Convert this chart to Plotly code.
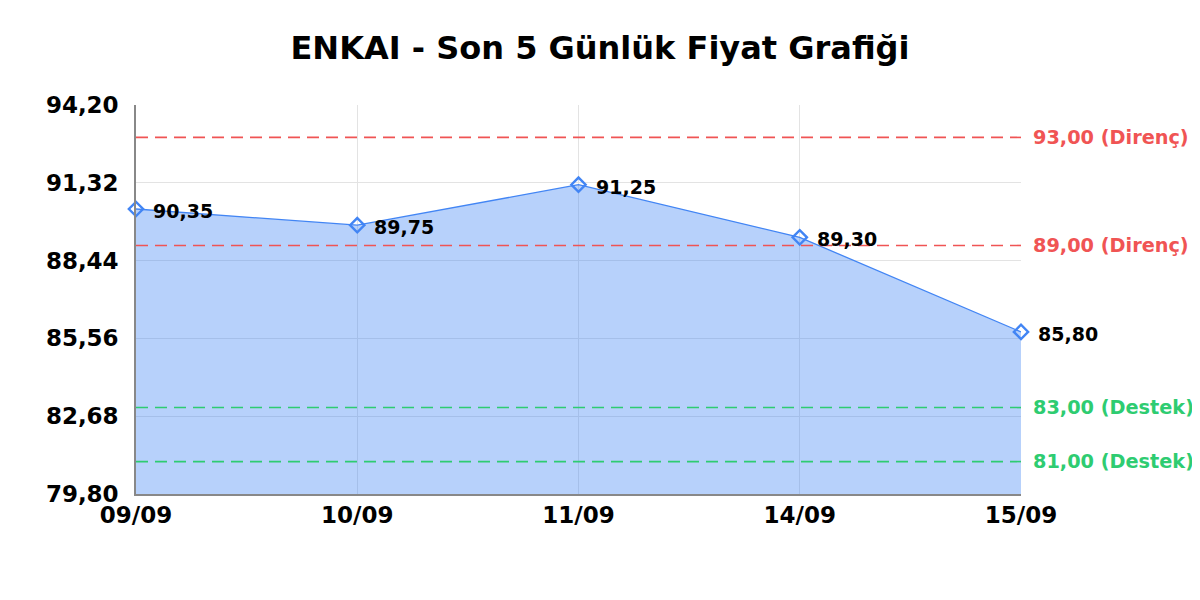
import plotly.graph_objects as go

# veri
dates = ['09/09', '10/09', '11/09', '14/09', '15/09']
prices = [90.35, 89.75, 91.25, 89.30, 85.80]
price_labels = ['90,35', '89,75', '91,25', '89,30', '85,80']

resistance_levels = [93.00, 89.00]
resistance_labels = ['93,00 (Direnç)', '89,00 (Direnç)']
support_levels = [83.00, 81.00]
support_labels = ['83,00 (Destek)', '81,00 (Destek)']

y_ticks = [79.80, 82.68, 85.56, 88.44, 91.32, 94.20]
y_tick_labels = ['79,80', '82,68', '85,56', '88,44', '91,32', '94,20']

RED = '#f05454'
GREEN = '#2ecc71'
BLUE = '#4285f4'
FONT = 'DejaVu Sans'

fig = go.Figure()

# fiyat alanı
fig.add_trace(go.Scatter(
    x=dates,
    y=prices,
    mode='lines+markers',
    fill='tozeroy',
    fillcolor='rgba(66,133,244,0.38)',
    line=dict(color=BLUE, width=1.3),
    marker=dict(symbol='diamond-open', size=11, color=BLUE, line=dict(width=2.4)),
    cliponaxis=False,
    showlegend=False,
))

# nokta etiketleri
for d, p, lbl in zip(dates, prices, price_labels):
    fig.add_annotation(x=d, y=p, text=lbl, showarrow=False,
                       xanchor='left', xshift=15, yshift=-2,
                       font=dict(family=FONT, size=19, color='black', weight='bold'))

# direnç / destek çizgileri
for levels, labels, col in [(resistance_levels, resistance_labels, RED),
                            (support_levels, support_labels, GREEN)]:
    for lvl, lbl in zip(levels, labels):
        fig.add_hline(y=lvl, line=dict(color=col, width=1.6, dash='12px,7px'))
        fig.add_annotation(x=1.0, xref='paper', y=lvl, yref='y', text=lbl,
                           showarrow=False, xanchor='left', xshift=10,
                           font=dict(family=FONT, size=19.3, color=col, weight='bold'))

fig.update_layout(
    title=dict(text='<b>ENKAI - Son 5 Günlük Fiyat Grafiği</b>', x=(600 - 8) / 1192, xanchor='center',
               y=1 - 40 / 592, yanchor='middle',
               font=dict(family=FONT, size=32, color='black')),
    width=1192, height=592,
    margin=dict(l=128, r=179, t=97, b=106),
    paper_bgcolor='white',
    plot_bgcolor='white',
    font=dict(family=FONT),
    xaxis=dict(
        type='category',
        range=[0, len(dates) - 1],
        showgrid=True, gridcolor='#e3e3e3', gridwidth=1,
        showline=True, linecolor='#888888', linewidth=1.5,
        ticks='', tickfont=dict(size=23, color='black', weight='bold'),
        zeroline=False,
    ),
    yaxis=dict(
        range=[y_ticks[0], y_ticks[-1]],
        tickvals=y_ticks, ticktext=y_tick_labels,
        showgrid=True, gridcolor='#e3e3e3', gridwidth=1,
        showline=True, linecolor='#888888', linewidth=1.5,
        ticks='', ticklabelstandoff=11,
        tickfont=dict(size=23, color='black', weight='bold'),
        zeroline=False,
    ),
)

fig.write_html('out.html')
